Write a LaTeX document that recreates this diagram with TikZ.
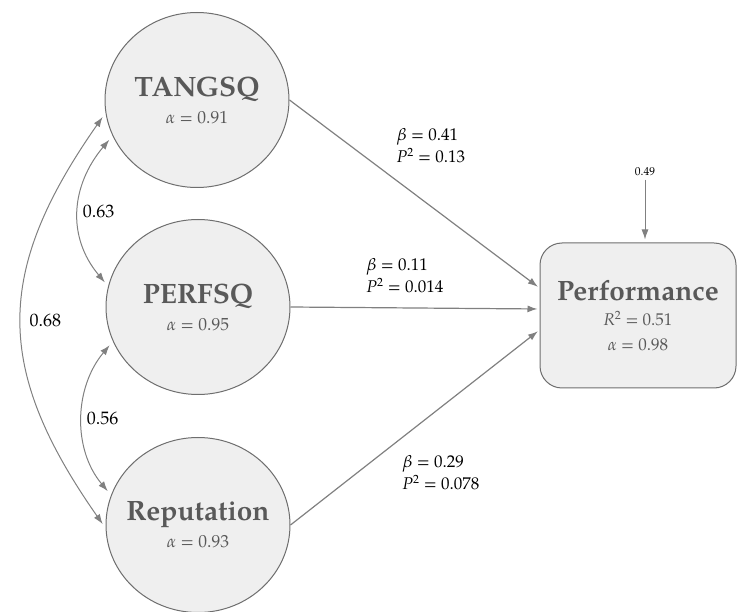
\documentclass[tikz,border=0pt]{standalone}
\usepackage{fontspec}
\setmainfont{TeX Gyre Pagella}
\usepackage{xcolor}
\usetikzlibrary{shapes.geometric,arrows.meta}

\definecolor{latfill}{HTML}{EFEFEF}
\definecolor{latline}{HTML}{6E6E6E}
\definecolor{latname}{HTML}{595959}
\definecolor{pathgray}{HTML}{808080}

\newcommand{\lname}[2]{\makebox[0pt]{\fontsize{#1}{25}\selectfont\bfseries #2}}
\newcommand{\lval}[1]{\makebox[0pt]{#1}}

\tikzset{
  latent/.style={ellipse,draw=latline,fill=latfill,line width=1pt,
    minimum width=184pt,minimum height=175pt,inner sep=0pt,
    text=latname,align=center,font=\fontsize{17.5}{27}\selectfont},
  outcome/.style={rectangle,rounded corners=22pt,draw=latline,fill=latfill,
    line width=1pt,minimum width=196pt,minimum height=145pt,
    text=latname,align=center,font=\fontsize{17}{25}\selectfont},
  path/.style={draw=pathgray,line width=1.2pt,-{Latex[length=10pt,width=7pt]}},
  cov/.style={draw=pathgray,line width=1pt,
    {Latex[length=10pt,width=7pt]}-{Latex[length=10pt,width=7pt]},
    shorten <=5pt,shorten >=5pt},
  coef/.style={align=left,font=\fontsize{17}{22}\selectfont},
  corr/.style={right,pos=.5,font=\fontsize{18}{20}\selectfont},
}

\begin{document}
\begin{tikzpicture}[x=1pt,y=-1pt]
\useasboundingbox (0,0) rectangle (737,612);

\node[latent] (tangsq) at (197,100) {\lname{28}{TANGSQ}\\\lval{\textit{α} = 0.91}};
\node[latent] (perfsq) at (198,307) {\lname{28}{PERFSQ}\\\lval{\textit{α} = 0.95}};
\node[latent] (reput) at (198,525) {\lname{28}{Reputation}\\\lval{\textit{α} = 0.93}};
\node[outcome] (perf) at (638,315.5) {\lname{28}{Performance}\\
  \lval{\textit{R}\textsuperscript{2} = 0.51}\\\lval{\textit{α} = 0.98}};

% error term
\node[font=\fontsize{11.5}{13}\selectfont] (err) at (645,172) {0.49};
\draw[path,line width=1pt,shorten >=3pt] (err.south) -- ([xshift=7pt]perf.north);

% structural paths
\draw[path,shorten >=2pt] (tangsq.east) -- ([yshift=27.5pt]perf.west);
\draw[path,shorten >=2pt] (perfsq.east) -- ([yshift=6.5pt]perf.west);
\draw[path,shorten >=2pt] (reput.east) -- ([yshift=-14.5pt]perf.west);

\node[coef] (b1) at (431,146) {\textit{β} = 0.41\\\textit{P}\textsuperscript{2} = 0.13};
\node[coef] (b2) at (405,276) {\textit{β} = 0.11\\\textit{P}\textsuperscript{2} = 0.014};
\node[coef] (b3) at (441,473) {\textit{β} = 0.29\\\textit{P}\textsuperscript{2} = 0.078};

% correlations
\draw[cov] (tangsq.203) to[out=230,in=130,looseness=1.1]
  node[corr] (c1) {0.63} (perfsq.167);
\draw[cov] (perfsq.202) to[out=230,in=130,looseness=1.0]
  node[corr] (c2) {0.56} (reput.161);
\draw[cov] (tangsq.188) to[out=235,in=125,looseness=1.2]
  node[corr,xshift=4pt] (c3) {0.68} (reput.182);
\end{tikzpicture}
\end{document}
